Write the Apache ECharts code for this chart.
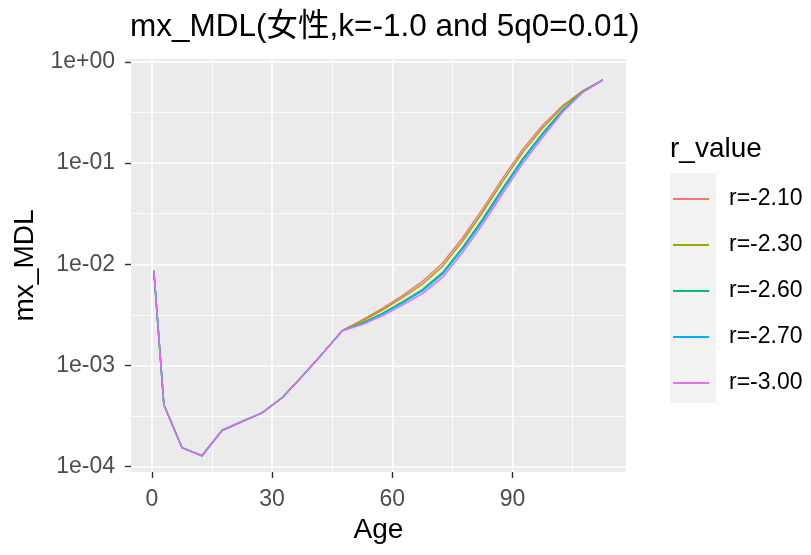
<!DOCTYPE html>
<html><head><meta charset="utf-8">
<script src="https://cdn.jsdelivr.net/npm/echarts@6/dist/echarts.min.js"></script>
<style>html,body{margin:0;padding:0;background:#fff}#c{width:811px;height:555px}</style>
</head><body><div id="c"></div>
<script>
// ---- data ----
const titleText = 'mx_MDL(女性,k=-1.0 and 5q0=0.01)';
const legendTitle = 'r_value';
const seriesNames = ['r=-2.10', 'r=-2.30', 'r=-2.60', 'r=-2.70', 'r=-3.00'];
const seriesColors = ['#F8766D', '#A3A500', '#00BF7D', '#00B0F6', '#E76BF3'];
const ages = [0.5, 3, 7.5, 12.5, 17.5, 22.5, 27.5, 32.5, 37.5, 42.5,
              47.5, 52.5, 57.5, 62.5, 67.5, 72.5, 77.5, 82.5, 87.5, 92.5, 97.5, 102.5, 107.5, 112.5];
// ages 0.5 - 42.5 : identical for all r values
const mxYoung = [0.00863, 0.000409, 0.000154, 0.000128, 0.000227, 0.000279, 0.000339, 0.000479, 0.00078, 0.00130];
// ages 47.5 - 112.5
const mxR210 = [0.00220, 0.00282, 0.00367, 0.00490, 0.00676, 0.01023, 0.0182, 0.0351, 0.0708, 0.1365, 0.2371, 0.3715, 0.5188, 0.664];
const mxR230 = [0.00220, 0.00275, 0.00353, 0.00467, 0.00635, 0.00953, 0.0169, 0.0325, 0.0656, 0.1270, 0.2228, 0.3597, 0.5150, 0.664];
const mxR260 = [0.00220, 0.00263, 0.00327, 0.00424, 0.00562, 0.00826, 0.01456, 0.02786, 0.05623, 0.1102, 0.1972, 0.3365, 0.5070, 0.664];
const mxR270 = [0.00220, 0.00260, 0.00321, 0.00413, 0.00546, 0.00796, 0.01403, 0.02679, 0.05408, 0.1062, 0.1914, 0.3304, 0.5047, 0.664];
const mxR300 = [0.00220, 0.00254, 0.00309, 0.00394, 0.00513, 0.00741, 0.01303, 0.02483, 0.05012, 0.0989, 0.1799, 0.3199, 0.5012, 0.664];
const xTicks = [0, 30, 60, 90];
const xMinorBreaks = [15, 45, 75, 105];
const yTickExps = [-4, -3, -2, -1, 0];
const yTickLabels = ['1e-04', '1e-03', '1e-02', '1e-01', '1e+00'];
const yMinorExps = [-3.5, -2.5, -1.5, -0.5];

// ---- chart ----
const FONT = "'Liberation Sans', Arial, 'Noto Sans CJK SC', sans-serif";
const xMin = -5.2, xMax = 118.3;
const yLogMin = -4.054, yLogMax = 0.0297;
const tails = [mxR210, mxR230, mxR260, mxR270, mxR300];

const series = seriesNames.map((name, k) => ({
  name: name,
  type: 'line',
  xAxisIndex: 0,
  yAxisIndex: 0,
  showSymbol: false,
  symbol: 'none',
  silent: true,
  lineStyle: { color: seriesColors[k], width: 1.5 },
  itemStyle: { color: seriesColors[k] },
  data: ages.map((a, i) => [a, i < mxYoung.length ? mxYoung[i] : tails[k][i - mxYoung.length]])
}));

const chart = echarts.init(document.getElementById('c'), null, { renderer: 'canvas' });
chart.setOption({
  animation: false,
  backgroundColor: '#ffffff',
  title: [
    { text: titleText, left: 130, top: 12, padding: 0,
      textStyle: { fontFamily: FONT, fontSize: 31.5, fontWeight: 'normal', color: '#000' } },
    { text: legendTitle, left: 670, top: 135, padding: 0,
      textStyle: { fontFamily: FONT, fontSize: 28, fontWeight: 'normal', color: '#000' } }
  ],
  graphic: [
    { type: 'rect', left: 670, top: 173, shape: { width: 46, height: 230 }, style: { fill: '#F2F2F2' }, z: 0 }
  ],
  legend: {
    orient: 'vertical', left: 673, top: 187, padding: 0,
    icon: 'rect', itemWidth: 36, itemHeight: 2, itemGap: 22,
    selectedMode: false,
    textStyle: { fontFamily: FONT, fontSize: 23, color: '#000', lineHeight: 24, padding: [0, 0, 0, 15] },
    data: seriesNames
  },
  grid: { left: 131, right: 185, top: 59, bottom: 83, show: true, backgroundColor: '#EBEBEB', borderWidth: 0, containLabel: false },
  xAxis: [
    { type: 'value', min: xMin, max: xMax, position: 'bottom',
      axisLine: { show: false, onZero: false },
      axisTick: { show: true, customValues: xTicks, length: 6, lineStyle: { color: '#333333', width: 1.4 } },
      axisLabel: { customValues: xTicks, color: '#4D4D4D', fontSize: 23, fontFamily: FONT, margin: 16 },
      splitLine: { show: true, lineStyle: { color: '#ffffff', width: 1.6 } },
      name: 'Age', nameLocation: 'middle', nameGap: 42,
      nameTextStyle: { fontFamily: FONT, fontSize: 28, color: '#000' } },
    { type: 'value', min: xMin, max: xMax, position: 'top',
      axisLine: { show: false, onZero: false },
      axisTick: { show: false, customValues: xMinorBreaks },
      axisLabel: { show: false, customValues: xMinorBreaks },
      splitLine: { show: true, lineStyle: { color: '#ffffff', width: 0.8 } } }
  ],
  yAxis: [
    { type: 'log', logBase: 10, min: Math.pow(10, yLogMin), max: Math.pow(10, yLogMax), show: false,
      axisLine: { onZero: false }, splitLine: { show: false } },
    { type: 'value', min: yLogMin, max: yLogMax, position: 'left',
      axisLine: { show: false, onZero: false },
      axisTick: { show: true, customValues: yTickExps, length: 6, lineStyle: { color: '#333333', width: 1.4 } },
      axisLabel: { customValues: yTickExps, color: '#4D4D4D', fontSize: 23, fontFamily: FONT, margin: 16,
        formatter: v => { const i = yTickExps.indexOf(Math.round(v)); return i >= 0 ? yTickLabels[i] : ''; } },
      splitLine: { show: true, lineStyle: { color: '#ffffff', width: 1.6 } },
      name: 'mx_MDL', nameLocation: 'middle', nameGap: 83,
      nameTextStyle: { fontFamily: FONT, fontSize: 28, color: '#000' } },
    { type: 'value', min: yLogMin, max: yLogMax, position: 'right',
      axisLine: { show: false, onZero: false },
      axisTick: { show: false, customValues: yMinorExps },
      axisLabel: { show: false, customValues: yMinorExps },
      splitLine: { show: true, lineStyle: { color: '#ffffff', width: 0.8 } } }
  ],
  series: series
});
</script></body></html>
